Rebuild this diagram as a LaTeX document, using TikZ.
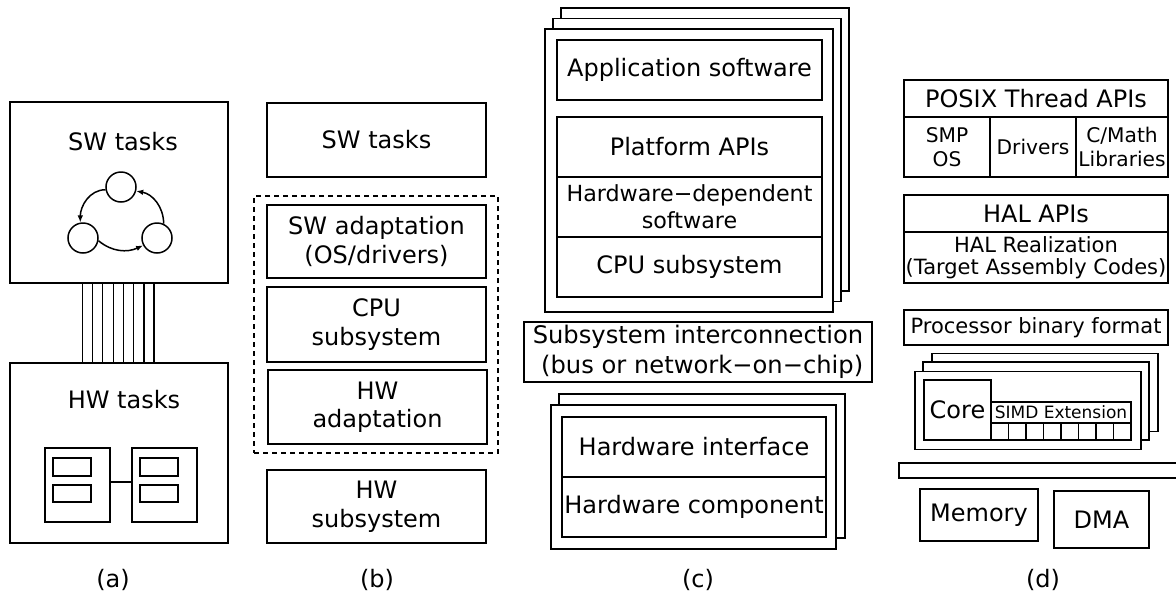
\documentclass[tikz,border=0pt]{standalone}
\usepackage{fontspec}
\setmainfont{DejaVu Sans}
\usetikzlibrary{arrows.meta}
\begin{document}
\begin{tikzpicture}[x=1pt,y=-1pt,
  box/.style={draw, line width=1.5pt, inner sep=0pt, align=center, fill=white,
    font=\fontsize{24}{28.5}\selectfont},
  sz/.style 2 args={minimum width=#1pt, minimum height=#2pt},
  lbl/.style={inner sep=0pt, font=\fontsize{24}{28.5}\selectfont},
  circ/.style={draw, line width=1.5pt, circle, minimum size=30pt, inner sep=0pt},
  arr/.style={line width=1.5pt, -{Latex[length=7pt,width=5.5pt]}},
  wire/.style={line width=1.1pt},
  dbox/.style={draw, line width=1.5pt, dash pattern=on 5pt off 4pt, inner sep=0pt}
]
\useasboundingbox (0,0) rectangle (1176,595);

% ---------------- (a) ----------------
\node[box, sz={218}{181}] (swa) at (119,192.5) {};
\node[lbl] (swat) at (123,142) {SW tasks};
\node[circ] (c1) at (121,187) {};
\node[circ] (c2) at (83,238) {};
\node[circ] (c3) at (157,238) {};
\draw[arr] (c1.190) to[out=180,in=90] (c2.100);
\draw[arr] (c2.-10) to[out=-40,in=205] (c3.208);
\draw[arr] (c3.65) to[out=90,in=-10] (c1.-15);

\node[box, sz={218}{180}] (hwa) at (119,453) {};
\node[lbl] (hwat) at (124,400) {HW tasks};
\node[box, line width=1.2pt, sz={65}{74}] (hl) at (77.5,485) {};
\node[box, line width=1.2pt, sz={65}{74}] (hr) at (164.5,485) {};
\draw[line width=1.2pt] ([yshift=3pt]hl.east) -- ([yshift=3pt]hr.west);
\node[box, line width=1.2pt, sz={38}{18}] (hl1) at (72,467) {};
\node[box, line width=1.2pt, sz={38}{17}] (hl2) at (72,493.5) {};
\node[box, line width=1.2pt, sz={38}{18}] (hr1) at (159,467) {};
\node[box, line width=1.2pt, sz={38}{17}] (hr2) at (159,493.5) {};
\foreach \dx in {-36.3,-26.3,-16.3,-5.7,4.3,14.3,25,35}
  \draw[wire] ([xshift=\dx pt]swa.south) -- ([xshift=\dx pt]hwa.north);
\node[lbl] (capa) at (113,580) {(a)};

% ---------------- (b) ----------------
\node[box, sz={219}{74}] (swb) at (376.5,140) {SW tasks};
\node[dbox, sz={244}{257}] (dash) at (376,324.5) {};
\node[box, sz={219}{73}] (swad) at (376.5,241.5) {SW adaptation\\(OS/drivers)};
\node[box, sz={219}{75}] (cpub) at (376.5,324.5) {CPU\\subsystem};
\node[box, sz={219}{74}] (hwad) at (377.5,407) {HW\\adaptation};
\node[box, sz={219}{73}] (hwsub) at (376.5,506.5) {HW\\subsystem};
\node[lbl] (capb) at (377,580) {(b)};

% ---------------- (c) ----------------
\begin{scope}[every node/.append style={font=\fontsize{24.3}{28.5}\selectfont}]
\node[box, sz={288}{283}] (cs3) at (705,149.5) {};
\node[box, sz={288}{283}] (cs2) at (697,160) {};
\node[box, sz={288}{283}] (cs1) at (689,170.5) {};
\node[box, sz={265}{60}] (app) at (689.5,70) {Application software};
\node[box, sz={265}{60}] (papi) at (689.5,147) {Platform APIs};
\node[box, sz={265}{60}, font=\fontsize{22.2}{27}\selectfont] (hds) at (689.5,207) {Hardware−dependent\\software};
\node[box, sz={265}{60}] (cpuc) at (689.5,267) {CPU subsystem};
\node[box, sz={348}{60}, align=right, font=\fontsize{24.2}{29.5}\selectfont] (inter) at (698,352) {Subsystem interconnection\\(bus or network−on−chip)};
\node[box, sz={286}{144}] (hs2) at (702,466) {};
\node[box, sz={285}{144}] (hs1) at (693.5,477) {};
\node[box, sz={264}{60}] (hwint) at (694,447) {Hardware interface};
\node[box, sz={264}{60}] (hwcomp) at (694,507) {Hardware component};
\end{scope}
\node[lbl] (capc) at (698,580) {(c)};

% ---------------- (d) ----------------
\node[box, sz={264}{37}] (posix) at (1036,98.5) {POSIX Thread APIs};
\node[box, sz={86}{60}, font=\fontsize{20.2}{23.5}\selectfont] (smp) at (947,147) {SMP\\OS};
\node[box, sz={86}{60}, font=\fontsize{20.2}{23.5}\selectfont] (drv) at (1033,147) {Drivers};
\node[box, sz={92}{60}, font=\fontsize{20.2}{23.5}\selectfont] (cmath) at (1122,147) {C/Math\\Libraries};
\node[box, sz={264}{37}] (halapi) at (1036,213.5) {HAL APIs};
\node[box, sz={264}{51}, font=\fontsize{21}{22.5}\selectfont] (halr) at (1036,257.5) {HAL Realization\\(Target Assembly Codes)};
\node[box, sz={264}{35}, font=\fontsize{21}{25}\selectfont] (pbf) at (1036,327.5) {Processor binary format};
\node[box, sz={226}{78}] (ks3) at (1045,392.5) {};
\node[box, sz={226}{78}] (ks2) at (1036,401) {};
\node[box, sz={226}{78}] (ks1) at (1028,410.5) {};
\node[box, sz={67}{60}] (core) at (957.5,410) {Core};
\node[box, sz={140}{21}, font=\fontsize{17}{20}\selectfont] (simd) at (1061,412.5) {SIMD Extension};
\foreach \i in {0,...,7}
  \node[box, sz={17.5}{17}] (cell\i) at ({999.75+17.5*\i},431.5) {};
\draw[line width=1.5pt] (1177,463) -| (899,478) -- (1177,478);
\node[box, sz={118}{52}] (mem) at (979,515) {Memory};
\node[box, sz={95}{57}] (dma) at (1101.5,519.5) {DMA};
\node[lbl] (capd) at (1043,580) {(d)};
\end{tikzpicture}
\end{document}
